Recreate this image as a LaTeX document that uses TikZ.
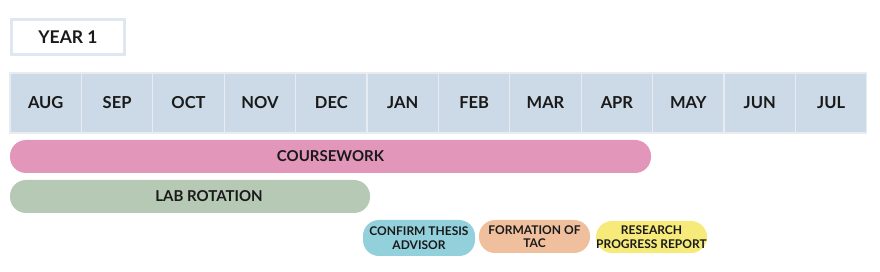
\documentclass[tikz,border=0pt]{standalone}
\usepackage{fontspec}
\setmainfont{Lato}
\definecolor{cellfill}{HTML}{CBDAE6}
\definecolor{cellline}{HTML}{E8ECF0}
\definecolor{yearline}{HTML}{DFE8F0}
\definecolor{cpink}{HTML}{E196BA}
\definecolor{cgreen}{HTML}{B5C9B4}
\definecolor{cblue}{HTML}{92D0DC}
\definecolor{corange}{HTML}{F0C09E}
\definecolor{cyellow}{HTML}{F5EA7A}
\definecolor{txt}{HTML}{1A1A1A}
\tikzset{
  x=1pt,y=-1pt,
  month/.style={draw=cellline, line width=1.2pt, fill=cellfill, minimum width=71.4pt, minimum height=60pt, inner sep=0pt, font=\fontsize{16.5}{18}\selectfont\bfseries, text=txt},
  bar/.style={rounded corners=16pt, inner sep=0pt, font=\fontsize{15}{17}\selectfont\bfseries, text=txt},
  pill/.style={rounded corners=16pt, inner sep=0pt, align=center, font=\fontsize{12}{13.5}\selectfont\bfseries, text=txt},
}
\begin{document}
\begin{tikzpicture}
\useasboundingbox (0,0) rectangle (880,272);
\node[draw=yearline, line width=3pt, minimum width=113pt, minimum height=35pt, inner sep=0pt, font=\fontsize{17.5}{19}\selectfont\bfseries, text=txt] (year) at (68,37) {YEAR 1};
\foreach \m [count=\i from 0] in {AUG,SEP,OCT,NOV,DEC,JAN,FEB,MAR,APR,MAY,JUN,JUL}{
  \node[month] (m\i) at ({10+71.4*\i+35.7},103) {\m};
}
\node[bar, fill=cpink, minimum width=641pt, minimum height=33pt] (cw) at (330.5,156.5) {COURSEWORK};
\node[bar, fill=cgreen, minimum width=360pt, minimum height=33pt] (lab) at (190,196.5) {\hspace*{38pt}LAB ROTATION};
\node[pill, fill=cblue, minimum width=112pt, minimum height=36pt] (adv) at (419,238) {CONFIRM THESIS\\ADVISOR};
\node[pill, fill=corange, minimum width=111pt, minimum height=33pt] (tac) at (534.5,236.5) {FORMATION OF\\TAC};
\node[pill, fill=cyellow, minimum width=111pt, minimum height=32pt] (rpr) at (651.5,237) {RESEARCH\\PROGRESS REPORT};
\end{tikzpicture}
\end{document}
